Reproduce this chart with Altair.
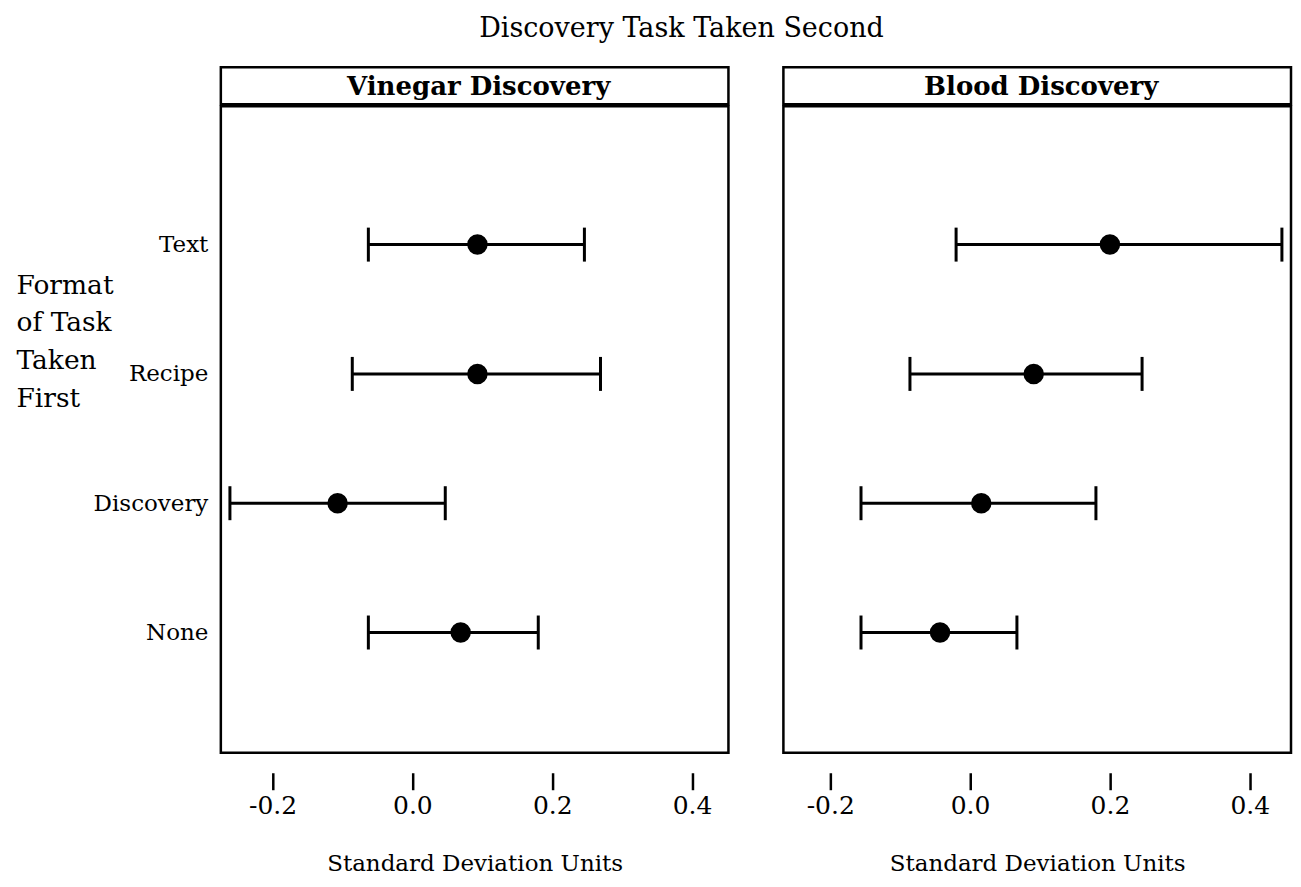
import altair as alt
import pandas as pd

# ---- data ----
formats = ["Text", "Recipe", "Discovery", "None"]

vinegar_mean = [0.093, 0.093, -0.107, 0.069]
vinegar_low = [-0.063, -0.086, -0.261, -0.063]
vinegar_high = [0.246, 0.269, 0.047, 0.180]

blood_mean = [0.200, 0.091, 0.016, -0.043]
blood_low = [-0.020, -0.086, -0.156, -0.156]
blood_high = [0.446, 0.246, 0.180, 0.067]

tick_values = [-0.2, 0.0, 0.2, 0.4]
panel_titles = ["Vinegar Discovery", "Blood Discovery"]
y_title = ["Format", "of Task", "Taken", "First"]
x_title = "Standard Deviation Units"
main_title = "Discovery Task Taken Second"

FONT = "DejaVu Serif"
PLOT_W = 508
PLOT_H = 647
HEAD_H = 37


def panel(name, mean, low, high, width, domain, show_y):
    df = pd.DataFrame({"format": formats, "mean": mean, "low": low, "high": high})
    x_scale = alt.Scale(domain=domain, nice=False, zero=False)
    x_axis = alt.Axis(
        values=tick_values,
        labelExpr="replace(format(datum.value, '.1f'), '\u2212', '-')",
        title=x_title,
        offset=20,
        tickSize=17,
        tickWidth=2.5,
        tickColor="black",
        domain=False,
        grid=False,
        labelFontSize=25,
        labelPadding=4,
        labelColor="black",
        labelFont=FONT,
        titleFont=FONT,
        titleFontSize=23,
        titleFontWeight="normal",
        titleColor="black",
        titlePadding=34,
    )
    y_scale = alt.Scale(type="point", padding=1.06, align=0.535)
    if show_y:
        y_axis = alt.Axis(
            title=y_title,
            titleAngle=0,
            titleAlign="left",
            titleBaseline="top",
            titleX=-205,
            titleY=166,
            titleFont=FONT,
            titleFontSize=26.5,
            titleFontWeight="normal",
            titleColor="black",
            titleLineHeight=37.7,
            labelFont=FONT,
            labelFontSize=23,
            labelColor="black",
            labelPadding=13,
            ticks=False,
            domain=False,
            grid=False,
        )
    else:
        y_axis = None
    y_enc = alt.Y("format:N", sort=formats, scale=y_scale, axis=y_axis)

    base = alt.Chart(df)
    rule = base.mark_rule(strokeWidth=3, color="black").encode(
        x=alt.X("low:Q", scale=x_scale, axis=x_axis),
        x2="high:Q",
        y=y_enc,
    )
    cap_lo = base.mark_tick(size=34, thickness=3, color="black", opacity=1).encode(
        x=alt.X("low:Q", scale=x_scale, axis=x_axis), y=y_enc
    )
    cap_hi = base.mark_tick(size=34, thickness=3, color="black", opacity=1).encode(
        x=alt.X("high:Q", scale=x_scale, axis=x_axis), y=y_enc
    )
    pts = base.mark_circle(size=420, color="black", opacity=1).encode(
        x=alt.X("mean:Q", scale=x_scale, axis=x_axis), y=y_enc
    )
    plot = alt.layer(rule, cap_lo, cap_hi, pts).properties(width=width, height=PLOT_H)

    header = (
        alt.Chart(pd.DataFrame({"panel": [name]}))
        .mark_text(font=FONT, fontSize=26, fontWeight="bold", color="black")
        .encode(text="panel:N", x=alt.value(width / 2 + 4), y=alt.value(HEAD_H / 2 + 1))
        .properties(width=width, height=HEAD_H)
    )
    return alt.vconcat(header, plot, spacing=-2.5)


left = panel(panel_titles[0], vinegar_mean, vinegar_low, vinegar_high, PLOT_W, [-0.274, 0.452], True)
right = panel(panel_titles[1], blood_mean, blood_low, blood_high, PLOT_W, [-0.267, 0.459], False)

chart = (
    alt.hconcat(left, right, spacing=51)
    .resolve_scale(x="independent", y="independent")
    .properties(
        title=alt.TitleParams(
            main_title,
            font=FONT,
            fontSize=27,
            fontWeight="normal",
            color="black",
            anchor="middle",
            offset=23,
            dx=28,
        ),
        padding={"left": 6, "top": 6, "right": 0, "bottom": 0},
        background="white",
    )
    .configure_view(stroke="black", strokeWidth=2.5)
)

chart.save("out.html", embed_options={"renderer": "svg", "actions": False})
